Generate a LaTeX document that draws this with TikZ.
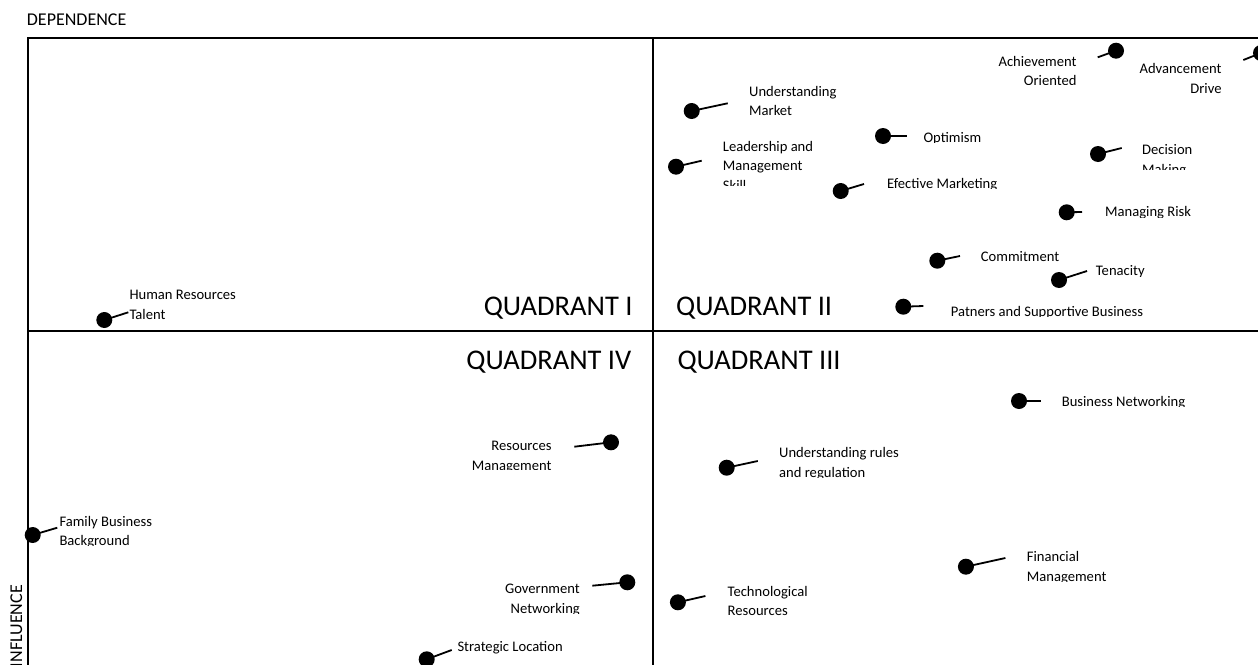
\documentclass[tikz,border=0pt]{standalone}
\usepackage{fontspec}
\setmainfont{Carlito}
\newcommand\lbl[1]{\begin{tabular}[t]{@{}l@{}}#1\end{tabular}}
\newcommand\lblr[1]{\begin{tabular}[t]{@{}r@{}}#1\end{tabular}}
\begin{document}
\begin{tikzpicture}[x=1pt,y=-1pt,
  frameline/.style={line width=2pt},
  dot/.style={circle,fill=black,minimum size=16pt,inner sep=0pt},
  conn/.style={line width=1.8pt},
  lab/.style={inner sep=0pt,font=\fontsize{14.6}{19.8}\selectfont},
  quad/.style={inner sep=0pt,font=\fontsize{28.5}{34}\selectfont},
  axislab/.style={inner sep=0pt,font=\fontsize{18}{22}\selectfont}]
\useasboundingbox (0,0) rectangle (1258,664);
\clip (0,0) rectangle (1258,664);
% frame
\coordinate (tl) at (27.7,37.7);
\coordinate (tr) at (1262,37.7);
\coordinate (bl) at (27.7,670);
\coordinate (mt) at (652.7,37.7);
\coordinate (mb) at (652.7,670);
\coordinate (ml) at (27.7,330.5);
\coordinate (mr) at (1262,330.5);
\draw[frameline] (bl) -- (tl) -- (tr);
\draw[frameline] (mt) -- (mb);
\draw[frameline] (ml) -- (mr);
% axis labels
\node[axislab,anchor=base west] (dep) at (26.7,25.5) {DEPENDENCE};
\node[axislab,anchor=base east,rotate=90] (inf) at (22,585) {INFLUENCE};
% quadrant labels
\node[quad,anchor=base east] (q1) at (632.7,315.5) {QUADRANT I};
\node[quad,anchor=base west] (q2) at (676,315.5) {QUADRANT II};
\node[quad,anchor=base east] (q4) at (631.5,369) {QUADRANT IV};
\node[quad,anchor=base west] (q3) at (677.3,369) {QUADRANT III};
% dots and connectors
\node[dot] (d1) at (691.7,111) {};    \coordinate (e1) at (727.7,103.3);
\node[dot] (d2) at (676,166.7) {};    \coordinate (e2) at (701.7,160.7);
\node[dot] (d3) at (883,136) {};      \coordinate (e3) at (907,136);
\node[dot] (d4) at (840.7,191) {};    \coordinate (e4) at (864,184);
\node[dot] (d5) at (1116,50.7) {};    \coordinate (e5) at (1097.7,57.3);
\node[dot] (d6) at (1261,53) {};      \coordinate (e6) at (1243.3,60);
\node[dot] (d7) at (1098,154) {};     \coordinate (e7) at (1121.7,148);
\node[dot] (d8) at (1066.7,212.3) {}; \coordinate (e8) at (1082,212);
\node[dot] (d9) at (937.3,260.7) {};  \coordinate (e9) at (960,256);
\node[dot] (d10) at (1059,280) {};    \coordinate (e10) at (1087,271);
\node[dot] (d11) at (903.3,306.7) {}; \coordinate (e11) at (923.3,306);
\node[dot] (d12) at (104.3,320) {};   \coordinate (e12) at (128.3,312.3);
\node[dot] (d13) at (32.7,535) {};    \coordinate (e13) at (57.3,527.7);
\node[dot] (d14) at (611,442.3) {};   \coordinate (e14) at (574.3,446.7);
\node[dot] (d15) at (627.3,582.3) {}; \coordinate (e15) at (592.3,585.7);
\node[dot] (d16) at (426.7,659.3) {}; \coordinate (e16) at (451.7,650);
\node[dot] (d17) at (1019,401) {};    \coordinate (e17) at (1041,401);
\node[dot] (d18) at (726.7,467.7) {}; \coordinate (e18) at (757.8,461);
\node[dot] (d19) at (965.9,566.7) {}; \coordinate (e19) at (1005.4,558);
\node[dot] (d20) at (677.9,602.3) {}; \coordinate (e20) at (705.4,596);
\foreach \i in {1,...,20} {\draw[conn] (d\i.center) -- (e\i);}
% labels
\node[lab,anchor=base west] (t1) at (749,96) {\lbl{Understanding\\Market}};
\begin{scope}\clip (0,0) rectangle (1258,185.5);
\node[lab,anchor=base west] (t2) at (722.7,151) {\lbl{Leadership and\\Management\\Skill}};
\end{scope}
\begin{scope}\clip (0,0) rectangle (1258,142.5);
\node[lab,anchor=base west] (t3) at (923.3,142) {\lbl{Optimism}};
\end{scope}
\begin{scope}\clip (0,0) rectangle (1258,188.7);
\node[lab,anchor=base west] (t4) at (887,188.4) {\lbl{Efective Marketing}};
\end{scope}
\begin{scope}\clip (0,0) rectangle (1258,84.5);
\node[lab,anchor=base east] (t5) at (1076.7,66) {\lblr{Achievement\\Oriented}};
\end{scope}
\node[lab,anchor=base east] (t6) at (1221.7,73.7) {\lblr{Advancement\\Drive}};
\begin{scope}\clip (0,0) rectangle (1258,169.5);
\node[lab,anchor=base west] (t7) at (1142,154.4) {\lbl{Decision\\Making}};
\end{scope}
\begin{scope}\clip (0,0) rectangle (1258,217);
\node[lab,anchor=base west] (t8) at (1105,216.7) {\lbl{Managing Risk}};
\end{scope}
\node[lab,anchor=base west] (t9) at (980.7,261) {\lbl{Commitment}};
\begin{scope}\clip (0,0) rectangle (1258,276);
\node[lab,anchor=base west] (t10) at (1095.7,275.4) {\lbl{Tenacity}};
\end{scope}
\begin{scope}\clip (0,0) rectangle (1258,316.3);
\node[lab,anchor=base west] (t11) at (950.7,316) {\lbl{Patners and Supportive Business}};
\end{scope}
\node[lab,anchor=base west] (t12) at (129.3,299.4) {\lbl{Human Resources\\Talent}};
\begin{scope}\clip (0,0) rectangle (1258,545.5);
\node[lab,anchor=base west] (t13) at (59.3,526) {\lbl{Family Business\\Background}};
\end{scope}
\begin{scope}\clip (0,0) rectangle (1258,469);
\node[lab,anchor=base east] (t14) at (551.7,450.4) {\lblr{Resources\\Management}};
\end{scope}
\begin{scope}\clip (0,0) rectangle (1258,613.5);
\node[lab,anchor=base east] (t15) at (580,593.7) {\lblr{Government\\Networking}};
\end{scope}
\node[lab,anchor=base west] (t16) at (457.3,651) {\lbl{Strategic Location}};
\begin{scope}\clip (0,0) rectangle (1258,406.5);
\node[lab,anchor=base west] (t17) at (1061.6,406) {\lbl{Business Networking}};
\end{scope}
\begin{scope}\clip (0,0) rectangle (1258,477);
\node[lab,anchor=base west] (t18) at (779,457.7) {\lbl{Understanding rules\\and regulation}};
\end{scope}
\begin{scope}\clip (0,0) rectangle (1258,581);
\node[lab,anchor=base west] (t19) at (1026.7,561.7) {\lbl{Financial\\Management}};
\end{scope}
\node[lab,anchor=base west] (t20) at (727.5,596) {\lbl{Technological\\Resources}};
\end{tikzpicture}
\end{document}
